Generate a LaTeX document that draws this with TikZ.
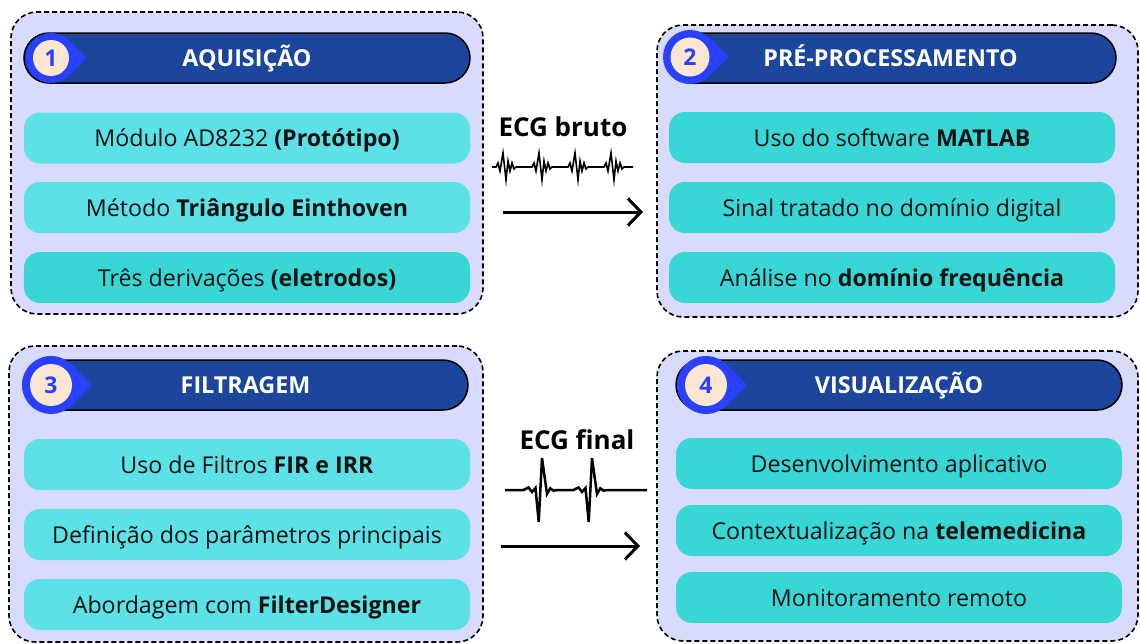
\documentclass[tikz,border=0pt]{standalone}
\usepackage{fontspec}
\setmainfont{Open Sans}
\usetikzlibrary{arrows.meta}

\definecolor{panelfill}{RGB}{217,219,253}
\definecolor{headblue}{RGB}{27,70,156}
\definecolor{badgeblue}{RGB}{42,64,255}
\definecolor{cream}{RGB}{250,230,209}
\definecolor{itemlight}{RGB}{92,225,230}
\definecolor{itemdark}{RGB}{56,215,214}

% badge: centre x, centre y, outer radius, tip distance, inner radius, number, name
\newcommand\stagebadge[7]{%
  \pgfmathsetmacro\bang{acos(#3/#4)}%
  \fill[badgeblue] (#1+#4,#2) -- ({#1+#3*cos(\bang)},{#2+#3*sin(\bang)})
    arc[start angle=\bang, end angle=360-\bang, radius=#3] -- cycle;
  \node[badgecore, minimum size=2*#5] (#7) at (#1,#2) {#6};%
}

\begin{document}
\begin{tikzpicture}[x=1pt,y=-1pt,
  panel/.style={draw=black, line width=1.6pt, dash pattern=on 5pt off 3pt,
    fill=panelfill, rounded corners=26pt, inner sep=0pt},
  header/.style={draw=black, line width=1.5pt, fill=headblue, rounded corners=25pt,
    minimum height=50pt, inner sep=0pt, text=white,
    text height=22pt, text depth=4.6pt,
    font=\bfseries\fontsize{23.3}{26}\selectfont},
  itembox/.style={rounded corners=16pt, minimum height=51pt, inner sep=0pt,
    text height=22pt, text depth=4.6pt,
    text=black!93, font=\fontsize{23.2}{27}\selectfont},
  itemL/.style={itembox, fill=itemlight},
  itemD/.style={itembox, fill=itemdark},
  badgecore/.style={circle, fill=cream, inner sep=0pt, text=badgeblue,
    font=\bfseries\fontsize{23}{24}\selectfont},
  flowlabel/.style={font=\bfseries\fontsize{26}{30}\selectfont, text=black},
  flowarrow/.style={line width=3pt, -{Straight Barb[length=13pt, width=27pt, line width=3pt]}},
  wave/.style={line width=1.6pt, line join=miter},
  wavebold/.style={line width=2.5pt, line join=miter}
]
\useasboundingbox (0,0) rectangle (1140,643);

% ---------- panels ----------
\node[panel, minimum width=472pt, minimum height=302pt] (p1) at (247,163) {};
\node[panel, minimum width=481pt, minimum height=292pt] (p2) at (897.5,171) {};
\node[panel, minimum width=474pt, minimum height=296pt] (p3) at (246,494) {};
\node[panel, minimum width=481pt, minimum height=290pt] (p4) at (897.5,496) {};

% ---------- 1: AQUISIÇÃO ----------
\node[header, minimum width=446pt] (h1) at (247,58) {AQUISIÇÃO};
\stagebadge{51}{58}{25}{36}{18}{1}{b1}
\node[itemL, minimum width=446pt] (a1) at (247,138) {Módulo AD8232 \textbf{(Protótipo)}};
\node[itemL, minimum width=446pt] (a2) at (247,207.5) {Método \textbf{Triângulo Einthoven}};
\node[itemD, minimum width=446pt] (a3) at (247,277.5) {Três derivações \textbf{(eletrodos)}};

% ---------- 2: PRÉ-PROCESSAMENTO ----------
\node[header, minimum width=451pt] (h2) at (890.5,58) {PRÉ-PROCESSAMENTO};
\stagebadge{690}{57}{27}{39}{19.5}{2}{b2}
\node[itemD, minimum width=446pt] (c1) at (892,137.5) {Uso do software \textbf{MATLAB}};
\node[itemD, minimum width=446pt] (c2) at (892,207.5) {Sinal tratado no domínio digital};
\node[itemD, minimum width=446pt] (c3) at (892,277.5) {Análise no \textbf{domínio frequência}};

% ---------- 3: FILTRAGEM ----------
\node[header, minimum width=445pt] (h3) at (245.5,385) {FILTRAGEM};
\stagebadge{51}{385}{29}{41}{21}{3}{b3}
\node[itemL, minimum width=446pt] (f1) at (247,464.5) {Uso de Filtros \textbf{FIR e IRR}};
\node[itemL, minimum width=446pt] (f2) at (247,534.5) {Definição dos parâmetros principais};
\node[itemL, minimum width=446pt] (f3) at (247,604.5) {Abordagem com \textbf{FilterDesigner}};

% ---------- 4: VISUALIZAÇÃO ----------
\node[header, minimum width=446pt] (h4) at (899,385) {VISUALIZAÇÃO};
\stagebadge{706}{385}{29}{41}{21}{4}{b4}
\node[itemD, minimum width=446pt] (v1) at (899,463.5) {Desenvolvimento aplicativo};
\node[itemD, minimum width=446pt] (v2) at (899,530.5) {Contextualização na \textbf{telemedicina}};
\node[itemD, minimum width=446pt] (v3) at (899,597.5) {Monitoramento remoto};

% ---------- transition 1 -> 2: raw signal ----------
\node[flowlabel] (lraw) at (563,127) {ECG bruto};
\draw[wave] (492,167)
  foreach \b in {505,541,577,613} {
    -- ({\b-9},167) -- ({\b-7},163) -- ({\b-5},171) -- ({\b-2},153)
    -- ({\b+1},180) -- ({\b+3},161) -- ({\b+5},171) -- ({\b+7},163)
    -- ({\b+9},169) -- ({\b+11},167)
  } -- (633,167);
\coordinate (r1s) at (503,212);
\coordinate (r1e) at (643,212);
\draw[flowarrow] (r1s) -- (r1e);

% ---------- transition 3 -> 4: filtered signal ----------
\node[flowlabel] (lfin) at (577,440) {ECG final};
\draw[wavebold] (505,490)
  foreach \b in {542,592} {
    -- ({\b-18.5},490) -- ({\b-13.5},487.5) -- ({\b-10},492) -- ({\b-6.5},488)
    -- ({\b-3.3},522) -- ({\b},458) -- ({\b+5},494) -- ({\b+8.3},488.3)
    -- ({\b+11.6},490.7) -- ({\b+15},490)
  } -- (647,490);
\coordinate (r2s) at (501,546);
\coordinate (r2e) at (640,546);
\draw[flowarrow] (r2s) -- (r2e);
\end{tikzpicture}
\end{document}
